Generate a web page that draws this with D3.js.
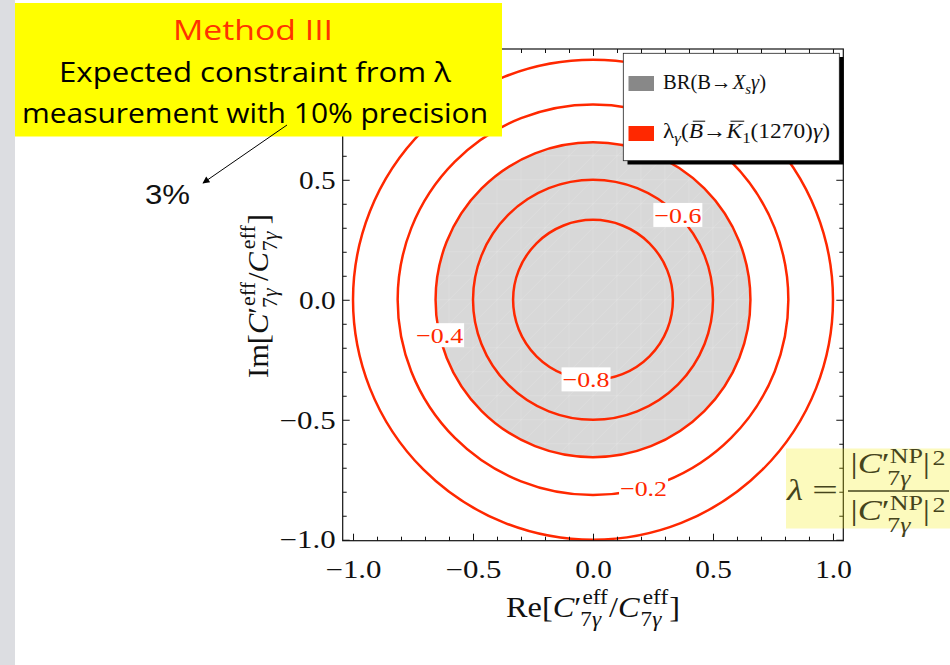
<!DOCTYPE html>
<html>
<head>
<meta charset="utf-8">
<script src="https://cdn.jsdelivr.net/npm/d3@7"></script>
<style>
  html, body { margin: 0; padding: 0; background: #fff; }
  svg { display: block; }
</style>
</head>
<body>
<svg id="chart" width="950" height="665"></svg>
<script>
// lambda contour levels and their radius |C'7/C7| in the complex plane
const contourLevels = [-0.8, -0.6, -0.4, -0.2, 0.0];
const contourRadii  = [0.333, 0.500, 0.656, 0.814, 1.000];
// which contours carry an inline label, and where on the ring (degrees)
const labelLevels = [-0.8, -0.6, -0.4, -0.2];
const labelAngles = [265, 45, 193, 285];
// region allowed by BR(B -> Xs gamma): disk of this radius
const brRadius = 0.656;
// axis ticks
const majorTicks = [-1.0, -0.5, 0.0, 0.5, 1.0];
const xTickLabels = [-1.0, -0.5, 0.0, 0.5, 1.0];
const yTickLabels = [-1.0, -0.5, 0.0, 0.5];
const minorTicks = [-0.9, -0.8, -0.7, -0.6, -0.4, -0.3, -0.2, -0.1,
                     0.1, 0.2, 0.3, 0.4, 0.6, 0.7, 0.8, 0.9];
// annotation texts
const boxTitle = "Method III";
const boxLines = ["Expected constraint from λ", "measurement with 10% precision"];
const precisionLabel = "3%";

const W = 950, H = 665;
const RED = "#ff2800";
const SERIF = "'Liberation Serif', 'Times New Roman', 'DejaVu Serif', serif";
const OLIVE = "#45441c";

const svg = d3.select("#chart");

const x = d3.scaleLinear().domain([-1.043, 1.043]).range([342.7, 843.3]);
const y = d3.scaleLinear().domain([-1.004, 1.045]).range([540.7, 49]);
const unit = x(1) - x(0);

// slide edge strip
svg.append("rect").attr("x", 0).attr("y", 0).attr("width", 15).attr("height", H)
  .attr("fill", "#dcdde1");

const defs = svg.append("defs");
defs.append("clipPath").attr("id", "plotClip").append("rect")
  .attr("x", x.range()[0]).attr("y", y.range()[1])
  .attr("width", x.range()[1] - x.range()[0])
  .attr("height", y.range()[0] - y.range()[1]);
defs.append("clipPath").attr("id", "diskClip").append("circle")
  .attr("cx", x(0)).attr("cy", y(0)).attr("r", brRadius * unit);
defs.append("marker").attr("id", "arrowHead")
  .attr("viewBox", "0 0 10 10").attr("refX", 9).attr("refY", 5)
  .attr("markerWidth", 9).attr("markerHeight", 7)
  .attr("markerUnits", "userSpaceOnUse").attr("orient", "auto")
  .append("path").attr("d", "M0,0 L10,5 L0,10 z").attr("fill", "#000");

const plot = svg.append("g").attr("clip-path", "url(#plotClip)");

// BR allowed disk
plot.append("circle")
  .attr("cx", x(0)).attr("cy", y(0)).attr("r", brRadius * unit)
  .attr("fill", "#d8d8d8");
// faint sampling mesh inside the filled region
const mesh = plot.append("g").attr("clip-path", "url(#diskClip)")
  .attr("stroke", "#ffffff").attr("stroke-opacity", 0.22).attr("stroke-width", 0.7);
const meshStep = d3.range(-0.7, 0.71, 0.1);
meshStep.forEach(v => {
  mesh.append("line").attr("x1", x(v)).attr("x2", x(v)).attr("y1", y(-0.7)).attr("y2", y(0.7));
  mesh.append("line").attr("y1", y(v)).attr("y2", y(v)).attr("x1", x(-0.7)).attr("x2", x(0.7));
  mesh.append("line").attr("x1", x(v - 0.7)).attr("y1", y(-0.7)).attr("x2", x(v + 0.7)).attr("y2", y(0.7));
});

// lambda contours
plot.selectAll("circle.contour").data(contourRadii).join("circle")
  .attr("class", "contour")
  .attr("cx", x(0)).attr("cy", y(0)).attr("r", d => d * unit)
  .attr("fill", "none").attr("stroke", RED).attr("stroke-width", 2.5);

// contour labels with white backing
const labelData = labelLevels.map((lv, i) => {
  const r = contourRadii[contourLevels.indexOf(lv)];
  const a = labelAngles[i] * Math.PI / 180;
  return { level: lv, re: r * Math.cos(a), im: r * Math.sin(a) };
});
const lab = plot.selectAll("g.clabel").data(labelData).join("g")
  .attr("class", "clabel")
  .attr("transform", d => `translate(${x(d.re)},${y(d.im)})`);
lab.append("rect").attr("x", -24.5).attr("y", -12).attr("width", 49).attr("height", 24)
  .attr("fill", "#fff");
lab.append("text")
  .attr("text-anchor", "middle").attr("y", 7.8)
  .attr("font-family", SERIF).attr("font-size", 22).attr("fill", RED)
  .attr("textLength", 47).attr("lengthAdjust", "spacingAndGlyphs")
  .text(d => d3.format(".1f")(d.level));

// axes: inward ticks on all four sides, labels on bottom and left
const fmt = d => d3.format(".1f")(d);
const labelLen = s => (s.includes("−") ? 19.5 : 0) + s.replace(/[^0-9]/g, "").length * 13.8 + 9;

function styleAxis(g) {
  g.select(".domain").remove();
  g.selectAll(".tick line").attr("stroke", "#111").attr("stroke-width", 1);
}
function styleLabels(sel) {
  sel.attr("font-family", SERIF).attr("font-size", 25).attr("fill", "#111")
    .attr("textLength", function() { return labelLen(this.textContent); })
    .attr("lengthAdjust", "spacingAndGlyphs");
}

const bottomY = y.range()[0], topY = y.range()[1];
const leftX = x.range()[0], rightX = x.range()[1];

// major ticks
svg.append("g").attr("transform", `translate(0,${bottomY})`)
  .call(d3.axisBottom(x).tickValues(majorTicks).tickSizeInner(-7).tickSizeOuter(0).tickFormat(""))
  .call(styleAxis);
svg.append("g").attr("transform", `translate(${leftX},0)`)
  .call(d3.axisLeft(y).tickValues(majorTicks).tickSizeInner(-7).tickSizeOuter(0).tickFormat(""))
  .call(styleAxis);
svg.append("g").attr("transform", `translate(0,${topY})`)
  .call(d3.axisTop(x).tickValues(majorTicks).tickSizeInner(-7).tickSizeOuter(0).tickFormat(""))
  .call(styleAxis);
svg.append("g").attr("transform", `translate(${rightX},0)`)
  .call(d3.axisRight(y).tickValues(majorTicks).tickSizeInner(-7).tickSizeOuter(0).tickFormat(""))
  .call(styleAxis);
// minor ticks
svg.append("g").attr("transform", `translate(0,${bottomY})`)
  .call(d3.axisBottom(x).tickValues(minorTicks).tickSizeInner(-4).tickSizeOuter(0).tickFormat(""))
  .call(styleAxis);
svg.append("g").attr("transform", `translate(${leftX},0)`)
  .call(d3.axisLeft(y).tickValues(minorTicks).tickSizeInner(-4).tickSizeOuter(0).tickFormat(""))
  .call(styleAxis);
svg.append("g").attr("transform", `translate(0,${topY})`)
  .call(d3.axisTop(x).tickValues(minorTicks).tickSizeInner(-4).tickSizeOuter(0).tickFormat(""))
  .call(styleAxis);
svg.append("g").attr("transform", `translate(${rightX},0)`)
  .call(d3.axisRight(y).tickValues(minorTicks).tickSizeInner(-4).tickSizeOuter(0).tickFormat(""))
  .call(styleAxis);
// tick labels
const gBottom = svg.append("g").attr("transform", `translate(0,${bottomY})`)
  .call(d3.axisBottom(x).tickValues(xTickLabels).tickSize(0).tickFormat(fmt))
  .call(styleAxis);
gBottom.selectAll(".tick text").attr("y", 37.5).attr("dy", null).call(styleLabels);
const gLeft = svg.append("g").attr("transform", `translate(${leftX},0)`)
  .call(d3.axisLeft(y).tickValues(yTickLabels).tickSize(0).tickPadding(7).tickFormat(fmt))
  .call(styleAxis);
gLeft.selectAll(".tick text").attr("dy", "0.33em").call(styleLabels);

// frame
svg.append("rect")
  .attr("x", leftX).attr("y", topY)
  .attr("width", rightX - leftX).attr("height", bottomY - topY)
  .attr("fill", "none").attr("stroke", "#111").attr("stroke-width", 1.2);

// --- small math typesetter: runs with stacked super/subscripts ---
function layoutMath(g, parts, size, color) {
  let cx = 0;
  const put = (txt, italic, px, py, fs) => {
    const el = g.append("text").attr("x", px).attr("y", py).attr("font-size", fs)
      .attr("font-style", italic ? "italic" : "normal").text(txt);
    return el.node().getComputedTextLength();
  };
  parts.forEach(p => {
    if (p.t) {
      const w = put(p.t, p.i, cx, 0, size);
      if (p.over) {
        const off = p.i ? size * 0.12 : 0;
        g.append("line")
          .attr("x1", cx + off + size * 0.05).attr("x2", cx + w + off - size * 0.03)
          .attr("y1", -size * 0.8).attr("y2", -size * 0.8)
          .attr("stroke", color).attr("stroke-width", Math.max(1, size * 0.05));
      }
      cx += w + (p.gap || 0);
    }
    if (p.sup || p.sub) {
      const fs = size * (p.scriptScale || 0.72);
      let a = cx + (p.supPad || 0), b = cx + (p.subPad || 0);
      if (p.sup) p.sup.forEach(s => { a += put(s.t, s.i, a, -size * (p.supShift ?? 0.34), fs); });
      if (p.sub) p.sub.forEach(s => { b += put(s.t, s.i, b, size * (p.subShift ?? 0.22), fs); });
      cx = Math.max(a, b) + (p.gap || 0);
    }
  });
  return cx;
}
function placeMath(parent, parts, size, o) {
  const outer = parent.append("g")
    .attr("transform", `translate(${o.x},${o.y})` + (o.rotate ? ` rotate(${o.rotate})` : ""))
    .attr("fill", o.color).attr("font-family", SERIF);
  const inner = outer.append("g");
  const w = layoutMath(inner, parts, size, o.color);
  const sx = o.width ? o.width / w : 1;
  const x0 = o.anchor === "middle" ? -w * sx / 2 : 0;
  inner.attr("transform", `translate(${x0},0) scale(${sx},1)`);
}

// axis titles
const ratio = head => [
  { t: head },
  { t: "C", i: true },
  { t: "′", supPad: 0, sup: [{ t: "eff" }], sub: [{ t: "7" }, { t: "γ", i: true }],
    supShift: 0.42, subShift: 0.3, subPad: -2, gap: 1 },
  { t: "/" },
  { t: "C", i: true, sup: [{ t: "eff" }], sub: [{ t: "7" }, { t: "γ", i: true }],
    supShift: 0.42, subShift: 0.3, supPad: 2, gap: 1 },
  { t: "]" }
];
placeMath(svg, ratio("Re["), 30, { x: 593, y: 617, width: 174, anchor: "middle", color: "#111" });
placeMath(svg, ratio("Im["), 30, { x: 268, y: 296, width: 164, anchor: "middle", rotate: -90, color: "#111" });

// legend
const leg = svg.append("g");
leg.append("rect").attr("x", 627.5).attr("y", 57).attr("width", 216).attr("height", 107.5).attr("fill", "#000");
leg.append("rect").attr("x", 623.3).attr("y", 53.3).attr("width", 216).attr("height", 107.4)
  .attr("fill", "#fff").attr("stroke", "#222").attr("stroke-width", 0.8);
leg.append("rect").attr("x", 628.5).attr("y", 76).attr("width", 25.5).attr("height", 15).attr("fill", "#888");
leg.append("rect").attr("x", 628.5).attr("y", 126).attr("width", 25.5).attr("height", 15).attr("fill", RED);
placeMath(leg, [
  { t: "BR(B" }, { t: "→", gap: 1 }, { t: "X", i: true, sub: [{ t: "s", i: true }], subShift: 0.25 },
  { t: "γ", i: true }, { t: ")" }
], 21, { x: 663, y: 89, width: 103, color: "#111" });
placeMath(leg, [
  { t: "λ", sub: [{ t: "γ", i: true }], subShift: 0.25 }, { t: "(" }, { t: "B", i: true, over: true },
  { t: " → " }, { t: "K", i: true, over: true, sub: [{ t: "1" }], subShift: 0.25 },
  { t: "(1270) " }, { t: "γ", i: true }, { t: ")" }
], 21, { x: 663, y: 138, width: 167, color: "#111" });

// yellow callout
const call = svg.append("g");
call.append("rect").attr("x", 15).attr("y", 3).attr("width", 487).attr("height", 133.5).attr("fill", "#ffff00");
call.append("text").attr("x", 253).attr("y", 39.5).attr("text-anchor", "middle")
  .attr("font-family", "'Open Sans', 'DejaVu Sans', sans-serif").attr("font-size", 28)
  .attr("fill", "#ff3300").attr("textLength", 160).attr("lengthAdjust", "spacingAndGlyphs")
  .text(boxTitle);
call.selectAll("text.line").data(boxLines).join("text").attr("class", "line")
  .attr("x", 255).attr("y", (d, i) => 82 + i * 41).attr("text-anchor", "middle")
  .attr("font-family", "'Open Sans', 'DejaVu Sans', sans-serif").attr("font-size", 28)
  .attr("fill", "#000").attr("textLength", (d, i) => [392, 466][i]).attr("lengthAdjust", "spacingAndGlyphs")
  .text(d => d);

// pointer to the 3% note
svg.append("line").attr("x1", 287).attr("y1", 125).attr("x2", 203).attr("y2", 183)
  .attr("stroke", "#000").attr("stroke-width", 1).attr("marker-end", "url(#arrowHead)");
svg.append("text").attr("x", 145).attr("y", 204)
  .attr("font-family", "'Liberation Sans', Arial, sans-serif").attr("font-size", 28)
  .attr("fill", "#111").attr("textLength", 45).attr("lengthAdjust", "spacingAndGlyphs")
  .text(precisionLabel);

// definition of lambda
const def = svg.append("g");
def.append("rect").attr("x", 786).attr("y", 448.5).attr("width", 164).attr("height", 80)
  .attr("fill", "rgb(243,235,0)").attr("fill-opacity", 0.26);
placeMath(def, [{ t: "λ", i: true }], 30, { x: 787, y: 500, width: 16, color: OLIVE });
placeMath(def, [{ t: "=" }], 30, { x: 812, y: 500, width: 26, color: OLIVE });
const modSq = [
  { t: "|" },
  { t: "C", i: true },
  { t: "′", sup: [{ t: "NP" }], sub: [{ t: "7" }, { t: "γ", i: true }], supShift: 0.33, subShift: 0.4, subPad: -2 },
  { t: "|", sup: [{ t: "2" }], supShift: 0.27, supPad: 2 }
];
placeMath(def, modSq, 30, { x: 898, y: 473, width: 95, anchor: "middle", color: OLIVE });
placeMath(def, modSq, 30, { x: 898, y: 520, width: 95, anchor: "middle", color: OLIVE });
def.append("line").attr("x1", 848).attr("x2", 949).attr("y1", 491).attr("y2", 491)
  .attr("stroke", OLIVE).attr("stroke-width", 1.3);
</script>
</body>
</html>
